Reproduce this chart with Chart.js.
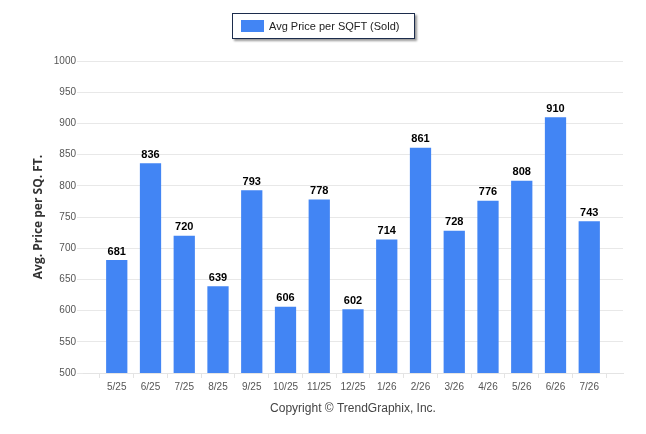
<!DOCTYPE html>
<html>
<head>
<meta charset="utf-8">
<script src="https://cdn.jsdelivr.net/npm/chart.js@4"></script>
<style>
  body { margin: 0; background: #fff; }
  #wrap { position: relative; width: 646px; height: 434px; }
  #legend {
    position: absolute; left: 232px; top: 13px; width: 181px; height: 24px;
    border: 1px solid #1c2c4c; box-shadow: 2px 2px 2px #9a9a9a; background: #fff;
    font: 11px "Liberation Sans", Arial, sans-serif; color: #222;
    display: flex; align-items: center;
  }
  #legend span.sw { display: inline-block; width: 23px; height: 12px; margin: 0 5px 0 8px; background: #4285F4; }
</style>
</head>
<body>
<div id="wrap">
  <canvas id="myChart" width="646" height="434"></canvas>
  <div id="legend"><span class="sw"></span><span>Avg Price per SQFT (Sold)</span></div>
</div>
<script>
const months = ['5/25', '6/25', '7/25', '8/25', '9/25', '10/25', '11/25', '12/25',
  '1/26', '2/26', '3/26', '4/26', '5/26', '6/26', '7/26'];
const avgPrice = [681, 836, 720, 639, 793, 606, 778, 602, 714, 861, 728, 776, 808, 910, 743];
const yTicks = [500, 550, 600, 650, 700, 750, 800, 850, 900, 950, 1000];

// half a slot of empty room on each side, like the original
const labels = [''].concat(months, ['']);
const values = [null].concat(avgPrice, [null]);

const valueLabels = {
    id: 'valueLabels',
    afterDatasetsDraw(chart) {
        const ctx = chart.ctx;
        const meta = chart.getDatasetMeta(0);
        ctx.save();
        ctx.font = 'bold 11px "Liberation Sans", Arial, sans-serif';
        ctx.fillStyle = '#000';
        ctx.textAlign = 'center';
        ctx.textBaseline = 'bottom';
        meta.data.forEach((bar, i) => {
            const v = values[i];
            if (v == null) return;
            ctx.fillText(v, bar.x, bar.y - 3);
        });
        ctx.restore();
    }
};

const myChart = new Chart(document.getElementById('myChart'), {
    type: 'bar',
    data: {
        labels: labels,
        datasets: [{
            label: 'Avg Price per SQFT (Sold)',
            data: values,
            backgroundColor: '#4285F4',
            categoryPercentage: 1,
            barPercentage: 0.63
        }]
    },
    plugins: [valueLabels],
    options: {
        responsive: false,
        animation: false,
        layout: { padding: { top: 61, right: 23, left: 0, bottom: 0 } },
        plugins: {
            legend: { display: false },
            tooltip: { enabled: false }
        },
        scales: {
            x: {
                offset: false,
                afterFit: (scale) => { scale.height = 61; },
                grid: { drawOnChartArea: false, drawTicks: true, tickLength: 5, color: '#e4e4e4' },
                border: { display: true, color: '#e4e4e4' },
                ticks: {
                    autoSkip: false, maxRotation: 0, padding: 3,
                    color: '#555', font: { family: '"Liberation Sans", Arial, sans-serif', size: 10 }
                },
                title: {
                    display: true,
                    text: 'Copyright © TrendGraphix, Inc.',
                    color: '#444',
                    font: { family: '"Liberation Sans", Arial, sans-serif', size: 12 },
                    padding: { top: 0, bottom: 18 }
                }
            },
            y: {
                min: 500,
                max: 1000,
                afterFit: (scale) => { scale.width = 83; },
                afterBuildTicks: (scale) => { scale.ticks = yTicks.map(v => ({ value: v })); },
                grid: { color: '#e8e8e8', tickLength: 6 },
                border: { display: false },
                ticks: {
                    padding: 1, color: '#555',
                    font: { family: '"Liberation Sans", Arial, sans-serif', size: 10 },
                    callback: (v) => String(v)
                },
                title: {
                    display: true,
                    text: 'Avg. Price per SQ. FT.',
                    color: '#333',
                    font: { family: '"Open Sans", sans-serif', size: 12, weight: 'bold' },
                    padding: { top: 31, bottom: 0 }
                }
            }
        }
    }
});
</script>
</body>
</html>
